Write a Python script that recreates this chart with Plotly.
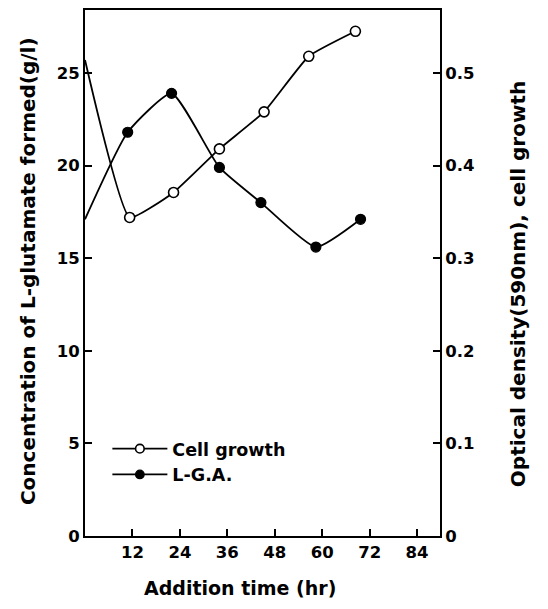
import plotly.graph_objects as go

# Data
cell_time = [0, 11.3, 22.4, 34.0, 45.3, 56.6, 68.4]
cell_od = [0.514, 0.344, 0.371, 0.418, 0.458, 0.518, 0.545]
cell_marker_size = [0, 10, 10, 10, 10, 10, 10]

lga_time = [0, 10.8, 21.9, 34.0, 44.5, 58.4, 69.7]
lga_conc = [17.1, 21.8, 23.9, 19.9, 18.0, 15.6, 17.1]
lga_marker_size = [0, 10, 10, 10, 10, 10, 10]

x_ticks = [12, 24, 36, 48, 60, 72, 84]
y_left_ticks = [0, 5, 10, 15, 20, 25]
y_right_ticks = [0, 0.1, 0.2, 0.3, 0.4, 0.5]
y_right_text = ["0", "0.1", "0.2", "0.3", "0.4", "0.5"]

x_title = "Addition time (hr)"
y_left_title = "Concentration of L-glutamate formed(g/l)"
y_right_title = "Optical density(590nm), cell growth"

FONT = "DejaVu Sans"
TICKFONT = dict(size=16.5, family=FONT, weight="bold", color="black")

fig = go.Figure()
fig.add_trace(go.Scatter(
    x=cell_time, y=cell_od, yaxis="y2", name="Cell growth",
    mode="lines+markers",
    line=dict(color="black", width=1.8, shape="spline", smoothing=0.4),
    marker=dict(symbol="circle", size=cell_marker_size, color="white",
                opacity=1, line=dict(color="black", width=1.6)),
))
fig.add_trace(go.Scatter(
    x=lga_time, y=lga_conc, yaxis="y", name="L-G.A.",
    mode="lines+markers",
    line=dict(color="black", width=1.8, shape="spline", smoothing=0.5),
    marker=dict(symbol="circle", size=lga_marker_size, color="black",
                opacity=1, line=dict(color="black", width=1.2)),
))

fig.update_layout(
    width=548, height=609,
    margin=dict(l=85, r=108, t=8, b=73),
    paper_bgcolor="white", plot_bgcolor="white",
    font=dict(family=FONT, color="black", size=15),
    showlegend=True,
    legend=dict(x=0.063, y=0.2, xanchor="left", yanchor="top",
                bgcolor="rgba(0,0,0,0)",
                font=dict(size=17.5, family=FONT, weight="bold"),
                itemwidth=55, tracegroupgap=4),
    xaxis=dict(
        range=[0, 89.8], tickvals=x_ticks, ticks="inside", ticklen=7,
        tickwidth=1.5, tickcolor="black", showline=True, linecolor="black",
        linewidth=2, mirror=True, showgrid=False, zeroline=False,
        tickfont=TICKFONT,
    ),
    yaxis=dict(
        range=[0, 28.4], tickvals=y_left_ticks, ticks="inside", ticklen=7,
        tickwidth=1.5, tickcolor="black", showline=True, linecolor="black",
        linewidth=2, showgrid=False, zeroline=False,
        tickfont=TICKFONT,
    ),
    yaxis2=dict(
        range=[0, 0.568], tickvals=y_right_ticks, ticktext=y_right_text,
        overlaying="y", side="right", ticks="inside", ticklen=7,
        tickwidth=1.5, tickcolor="black", showline=True, linecolor="black",
        linewidth=2, showgrid=False, zeroline=False,
        tickfont=TICKFONT,
    ),
    annotations=[
        dict(text=x_title, xref="paper", yref="paper", x=0.437, y=-0.098,
             xanchor="center", yanchor="middle", showarrow=False,
             font=dict(size=19, family=FONT, weight="bold")),
        dict(text=y_left_title, xref="paper", yref="paper", x=-0.16, y=0.504,
             xanchor="center", yanchor="middle", showarrow=False, textangle=-90,
             font=dict(size=20, family=FONT, weight="bold")),
        dict(text=y_right_title, xref="paper", yref="paper", x=1.22, y=0.479,
             xanchor="center", yanchor="middle", showarrow=False, textangle=-90,
             font=dict(size=20, family=FONT, weight="bold")),
    ],
)

fig.write_html("out.html")
